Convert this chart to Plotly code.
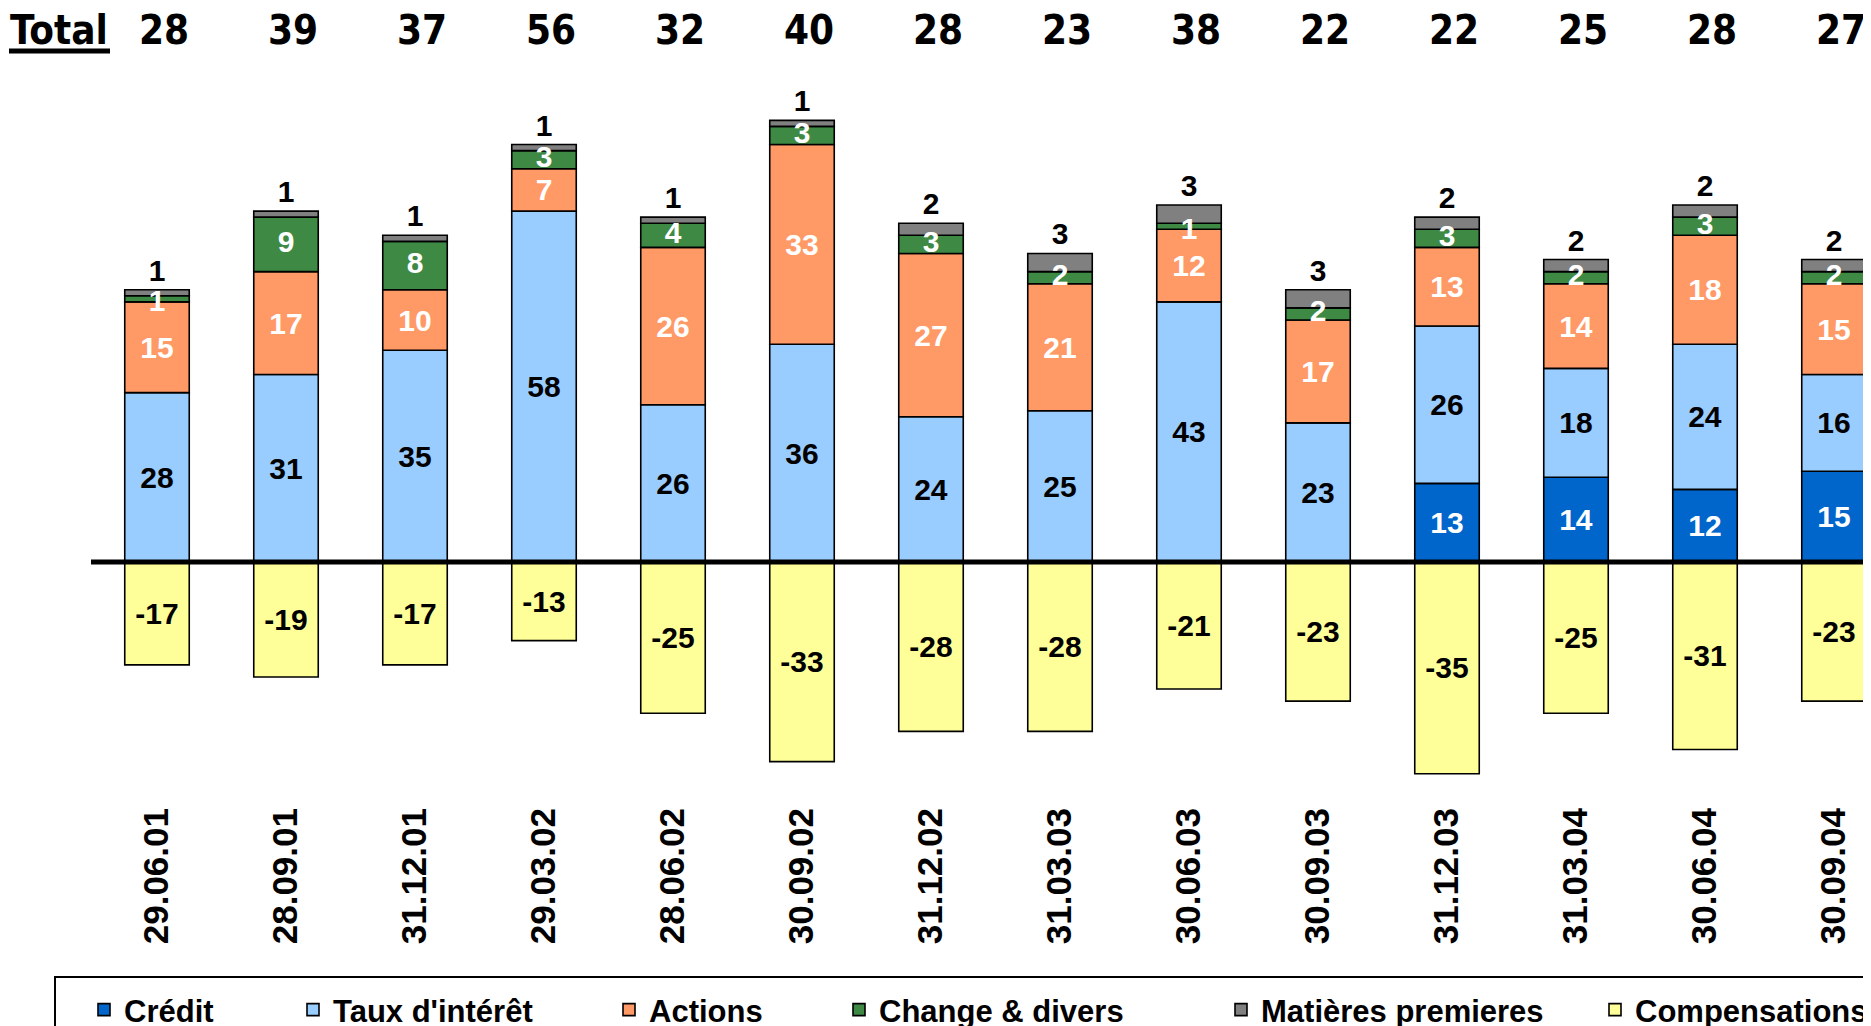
import plotly.graph_objects as go

dates = ["29.06.01", "28.09.01", "31.12.01", "29.03.02", "28.06.02", "30.09.02", "31.12.02",
         "31.03.03", "30.06.03", "30.09.03", "31.12.03", "31.03.04", "30.06.04", "30.09.04"]
totals = [28, 39, 37, 56, 32, 40, 28, 23, 38, 22, 22, 25, 28, 27]
credit = [None, None, None, None, None, None, None, None, None, None, 13, 14, 12, 15]
taux = [28, 31, 35, 58, 26, 36, 24, 25, 43, 23, 26, 18, 24, 16]
actions = [15, 17, 10, 7, 26, 33, 27, 21, 12, 17, 13, 14, 18, 15]
change = [1, 9, 8, 3, 4, 3, 3, 2, 1, 2, 3, 2, 3, 2]
matieres = [1, 1, 1, 1, 1, 1, 2, 3, 3, 3, 2, 2, 2, 2]
compensations = [-17, -19, -17, -13, -25, -33, -28, -28, -21, -23, -35, -25, -31, -23]

W, H = 1871, 1026
OFF = 8                       # page offset of the figure (body margin)
PLOT_LEFT_PAGE = 91           # page x where the plot area starts
PLOT_BOTTOM_PAGE = 800        # page y where the plot area ends
ML = PLOT_LEFT_PAGE - OFF
MR, MT = 0, 0
MB = H - (PLOT_BOTTOM_PAGE - OFF)
PW, PH = W - ML - MR, H - MT - MB
ZERO_Y_PAGE = 562
PX_PER_UNIT = 6.05

def py_paper(page_py):
    return (PH - (page_py - OFF - MT)) / PH

def px_paper(page_px):
    return (page_px - OFF - ML) / PW

zero_fig = ZERO_Y_PAGE - OFF
ymax = (zero_fig - MT) / PX_PER_UNIT
ymin = -(MT + PH - zero_fig) / PX_PER_UNIT
x_first_page, x_step_px = 157, 129.0
x0 = -(x_first_page - PLOT_LEFT_PAGE) / x_step_px
x1 = x0 + PW / x_step_px

LAB_FONT = "Liberation Sans, Arial, sans-serif"
TOT_FONT = "DejaVu Sans Condensed, DejaVu Sans, sans-serif"

series = [
    ("Crédit", credit, "#0066CC", "white", "inside", True),
    ("Taux d'intérêt", taux, "#99CCFF", "black", "inside", True),
    ("Actions", actions, "#FF9966", "white", "inside", True),
    ("Change & divers", change, "#3E8A44", "white", "none", False),
    ("Matières premieres", matieres, "#808080", "black", "outside", True),
    ("Compensations", compensations, "#FFFF99", "black", "inside", True),
]

legend_sym_center = [105, 314, 630, 860, 1242, 1616]

fig = go.Figure()
for k, (name, vals, color, tcol, tpos, own_text) in enumerate(series):
    lid = "legend" if k == 0 else f"legend{k+1}"
    fig.add_trace(go.Bar(
        x=dates, y=vals, name=name,
        marker=dict(color=color, line=dict(color="black", width=1.6)),
        text=[("" if (v is None or not own_text) else str(v)) for v in vals],
        textposition=tpos, textangle=0, constraintext="none",
        insidetextanchor="middle",
        textfont=dict(family=LAB_FONT, size=30, color=tcol, weight="bold"),
        cliponaxis=False,
        legend=lid,
        hoverinfo="skip",
    ))

# labels of the thin "Change & divers" segments, drawn above all bars;
# the thinnest ones sit slightly below the segment middle as in the original
LABEL_DROP = 0.8
change_mid = [(c or 0) + t + a + ch / 2 - (LABEL_DROP if ch < 2 else 0)
              for c, t, a, ch in zip(credit, taux, actions, change)]
fig.add_trace(go.Scatter(
    x=dates, y=change_mid, mode="text", text=[str(v) for v in change],
    textposition="middle center",
    textfont=dict(family=LAB_FONT, size=30, color="white", weight="bold"),
    showlegend=False, hoverinfo="skip", cliponaxis=False,
))

legends = {}
for k, cx in enumerate(legend_sym_center):
    lid = "legend" if k == 0 else f"legend{k+1}"
    legends[lid] = dict(
        x=px_paper(cx - 21), y=py_paper(983),
        xanchor="left", yanchor="top", orientation="h",
        bgcolor="rgba(0,0,0,0)", borderwidth=0,
        font=dict(family=LAB_FONT, size=31, color="black", weight="bold"),
    )

TOT_Y = 30
annotations = [dict(
    x=px_paper(8), xref="paper", y=py_paper(TOT_Y), yref="paper",
    text="Total", showarrow=False, xanchor="left", yanchor="middle",
    font=dict(family=TOT_FONT, size=40, color="black", weight="bold"),
)]
for d, t in zip(dates, totals):
    annotations.append(dict(
        x=d, xref="x", y=py_paper(TOT_Y), yref="paper", xshift=7,
        text=str(t), showarrow=False, xanchor="center", yanchor="middle",
        font=dict(family=TOT_FONT, size=40, color="black", weight="bold"),
    ))

shapes = [
    # zero line
    dict(type="line", xref="paper", x0=0, x1=1, yref="y", y0=0, y1=0,
         line=dict(color="black", width=5), layer="above"),
    # underline of "Total"
    dict(type="line", xref="paper", x0=px_paper(9), x1=px_paper(110),
         yref="paper", y0=py_paper(51), y1=py_paper(51),
         line=dict(color="black", width=5)),
    # legend frame
    dict(type="rect", xref="paper", x0=px_paper(55), x1=px_paper(1910),
         yref="paper", y0=py_paper(977), y1=py_paper(1060),
         line=dict(color="black", width=2), fillcolor="rgba(0,0,0,0)"),
]

fig.update_layout(
    width=W, height=H,
    margin=dict(l=ML, r=MR, t=MT, b=MB, autoexpand=False),
    barmode="relative", bargap=0.5,
    plot_bgcolor="white", paper_bgcolor="white",
    showlegend=True,
    annotations=annotations, shapes=shapes,
    xaxis=dict(range=[x0, x1], tickangle=-90, ticks="", showgrid=False, zeroline=False,
               showline=False,
               tickfont=dict(family=LAB_FONT, size=35, color="black", weight="bold")),
    yaxis=dict(range=[ymin, ymax], showgrid=False, zeroline=False, showticklabels=False,
               showline=False),
    **legends,
)

fig.write_html("out.html")
